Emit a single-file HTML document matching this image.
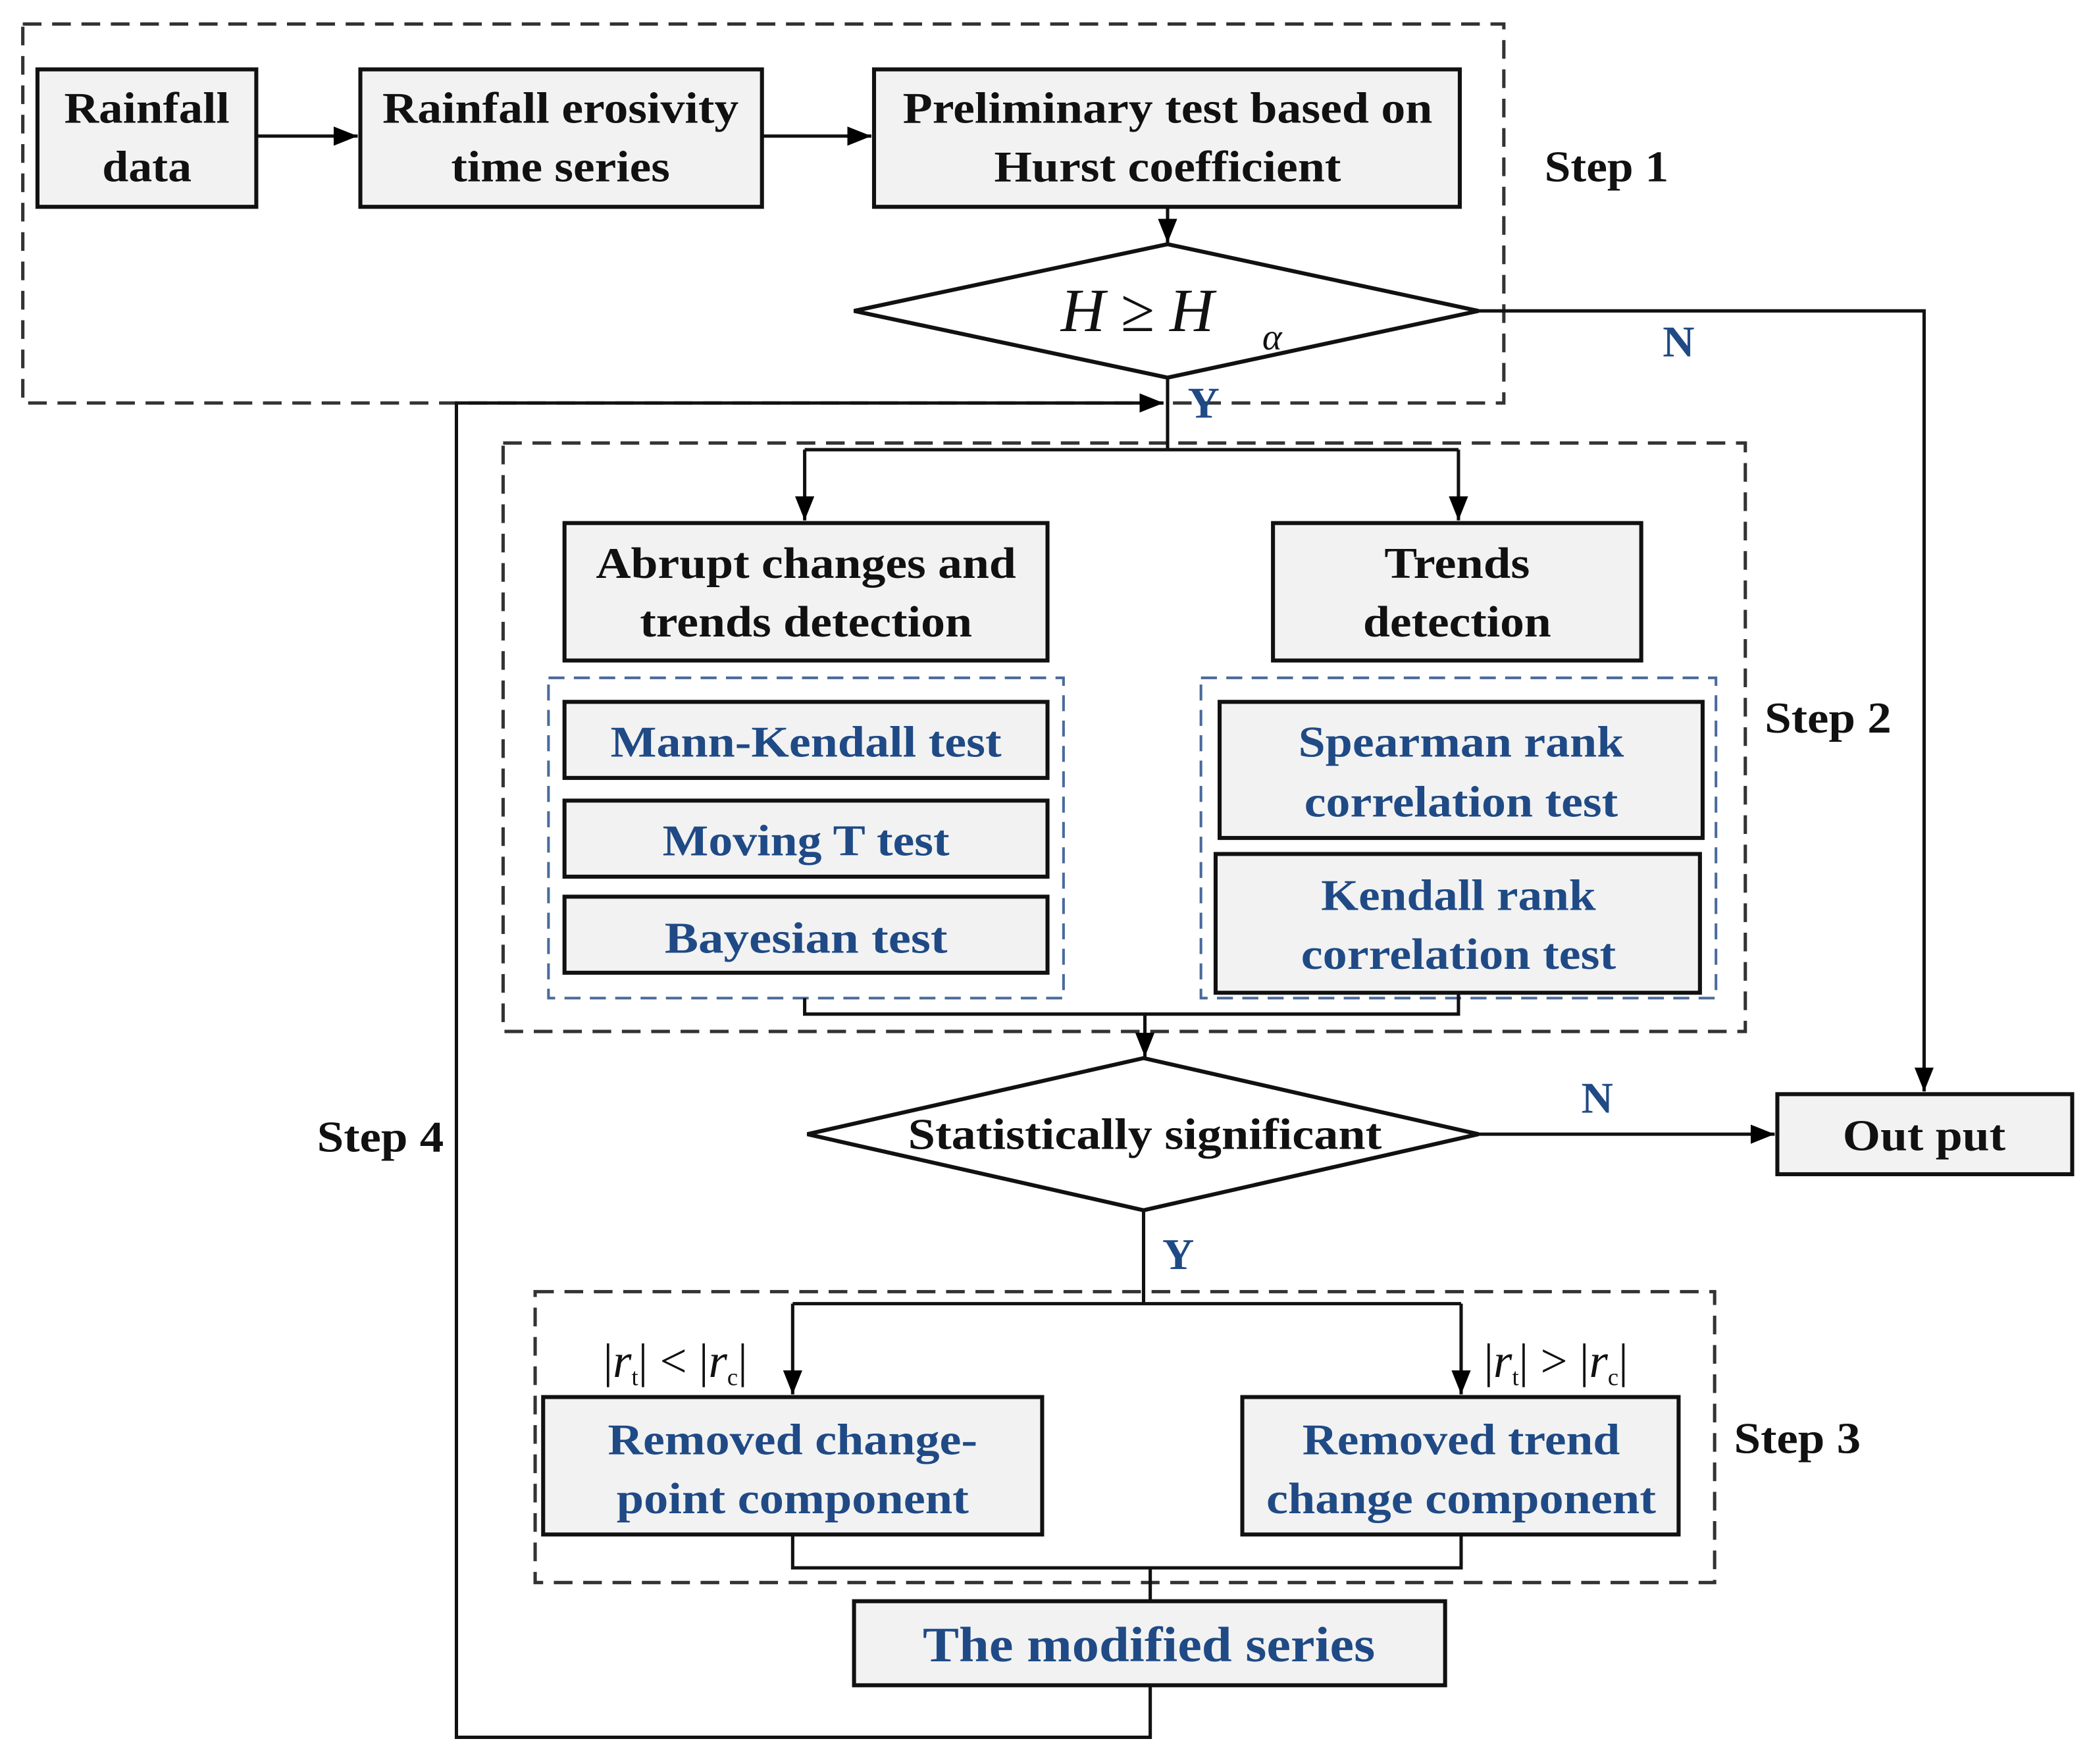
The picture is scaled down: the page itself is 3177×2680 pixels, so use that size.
<!DOCTYPE html>
<html><head><meta charset="utf-8"><style>html,body{margin:0;padding:0;background:#fff}svg{display:block}</style></head>
<body>
<svg width="3177" height="2680" viewBox="0 0 1567 1322" xmlns="http://www.w3.org/2000/svg" font-family="Liberation Serif, serif" font-weight="bold">
<defs>
<marker id="b" viewBox="0 0 10 10" refX="10" refY="5" markerWidth="18" markerHeight="18" orient="auto" markerUnits="userSpaceOnUse"><path d="M0,1L10,5L0,9z" fill="#000"/></marker>
</defs>
<g fill="none" stroke="#333" stroke-width="2.5" stroke-dasharray="14,8">
<rect x="17" y="18" width="1110" height="284"/>
<rect x="377" y="332" width="931" height="441"/>
<rect x="401" y="968" width="884" height="218"/>
</g>
<g fill="none" stroke="#4a6a9a" stroke-width="2" stroke-dasharray="12,7">
<rect x="411" y="508" width="386" height="240"/>
<rect x="900" y="508" width="386" height="240"/>
</g>
<g fill="#f2f2f2" stroke="#111" stroke-width="3">
<rect x="28" y="52" width="164" height="103"/>
<rect x="270" y="52" width="301" height="103"/>
<rect x="655" y="52" width="439" height="103"/>
<rect x="423" y="392" width="362" height="103"/>
<rect x="954" y="392" width="276" height="103"/>
<rect x="423" y="526" width="362" height="57"/>
<rect x="423" y="600" width="362" height="57"/>
<rect x="423" y="672" width="362" height="57"/>
<rect x="914" y="526" width="362" height="102"/>
<rect x="911" y="640" width="363" height="104"/>
<rect x="1332" y="820" width="221" height="60"/>
<rect x="407" y="1047" width="374" height="103"/>
<rect x="931" y="1047" width="327" height="103"/>
<rect x="640" y="1200" width="443" height="63"/>
</g>
<g fill="#fff" stroke="#111" stroke-width="3">
<polygon points="640,233 875,183 1108,233 875,283"/>
<polygon points="605,850 857,793 1108,850 857,907"/>
</g>
<g fill="none" stroke="#111" stroke-width="2.5">
<path d="M192,102H268" marker-end="url(#b)"/>
<path d="M571,102H653" marker-end="url(#b)"/>
<path d="M875,155V182" marker-end="url(#b)"/>
<path d="M1108,233H1442V818" marker-end="url(#b)"/>
<path d="M875,283V337"/>
<path d="M603,337H1093"/>
<path d="M603,337V390" marker-end="url(#b)"/>
<path d="M1093,337V390" marker-end="url(#b)"/>
<path d="M862,1263V1302H342V302H872" marker-end="url(#b)"/>
<path d="M603,748V760H1093V744"/>
<path d="M858,760V792" marker-end="url(#b)"/>
<path d="M1108,850H1330" marker-end="url(#b)"/>
<path d="M857,907V977"/>
<path d="M594,977H1095"/>
<path d="M594,977V1045" marker-end="url(#b)"/>
<path d="M1095,977V1045" marker-end="url(#b)"/>
<path d="M594,1150V1175H1095V1150"/>
<path d="M862,1175V1200"/>
</g>
<g font-size="33" fill="#111" text-anchor="middle" lengthAdjust="spacingAndGlyphs">
<text x="110" y="92" textLength="124" lengthAdjust="spacingAndGlyphs">Rainfall</text>
<text x="110" y="136" textLength="67" lengthAdjust="spacingAndGlyphs">data</text>
<text x="420" y="92" textLength="267" lengthAdjust="spacingAndGlyphs">Rainfall erosivity</text>
<text x="420" y="136" textLength="164" lengthAdjust="spacingAndGlyphs">time series</text>
<text x="875" y="92" textLength="397" lengthAdjust="spacingAndGlyphs">Preliminary test based on</text>
<text x="875" y="136" textLength="260" lengthAdjust="spacingAndGlyphs">Hurst coefficient</text>
<text x="604" y="433" textLength="315" lengthAdjust="spacingAndGlyphs">Abrupt changes and</text>
<text x="604" y="477" textLength="249" lengthAdjust="spacingAndGlyphs">trends detection</text>
<text x="1092" y="433" textLength="109" lengthAdjust="spacingAndGlyphs">Trends</text>
<text x="1092" y="477" textLength="141" lengthAdjust="spacingAndGlyphs">detection</text>
<text x="858" y="861" textLength="355" lengthAdjust="spacingAndGlyphs">Statistically significant</text>
<text x="1442" y="862" textLength="122" lengthAdjust="spacingAndGlyphs">Out put</text>
<text x="1204" y="136" textLength="93" lengthAdjust="spacingAndGlyphs">Step 1</text>
<text x="1370" y="549" textLength="95" lengthAdjust="spacingAndGlyphs">Step 2</text>
<text x="1347" y="1089" textLength="95" lengthAdjust="spacingAndGlyphs">Step 3</text>
<text x="285" y="863" textLength="95" lengthAdjust="spacingAndGlyphs">Step 4</text>
</g>
<g font-size="33" fill="#1f4a85" text-anchor="middle">
<text x="604" y="567" textLength="293" lengthAdjust="spacingAndGlyphs">Mann-Kendall test</text>
<text x="604" y="641" textLength="215" lengthAdjust="spacingAndGlyphs">Moving T test</text>
<text x="604" y="714" textLength="212" lengthAdjust="spacingAndGlyphs">Bayesian  test</text>
<text x="1095" y="567" textLength="244" lengthAdjust="spacingAndGlyphs">Spearman rank</text>
<text x="1095" y="612" textLength="235" lengthAdjust="spacingAndGlyphs">correlation test</text>
<text x="1093" y="682" textLength="206" lengthAdjust="spacingAndGlyphs">Kendall rank</text>
<text x="1093" y="726" textLength="236" lengthAdjust="spacingAndGlyphs">correlation test</text>
<text x="594" y="1090" textLength="277" lengthAdjust="spacingAndGlyphs">Removed change-</text>
<text x="594" y="1134" textLength="264" lengthAdjust="spacingAndGlyphs">point component</text>
<text x="1095" y="1090" textLength="238" lengthAdjust="spacingAndGlyphs">Removed trend</text>
<text x="1095" y="1134" textLength="292" lengthAdjust="spacingAndGlyphs">change component</text>
<text x="861" y="1245" font-size="37" textLength="339" lengthAdjust="spacingAndGlyphs">The modified series</text>
<text x="1258" y="267">N</text>
<text x="902" y="313">Y</text>
<text x="1197" y="834">N</text>
<text x="883" y="951">Y</text>
</g>
<g font-family="Liberation Serif, serif" font-weight="normal" font-style="italic" fill="#111">
<text x="795" y="248" font-size="46">H ≥ H</text><text x="946" y="262" font-size="28">α</text>
<text x="452" y="1032" font-size="36" font-style="normal">|<tspan font-style="italic">r</tspan><tspan font-size="18" dy="6">t</tspan><tspan dy="-6">| &lt; |</tspan><tspan font-style="italic">r</tspan><tspan font-size="18" dy="6">c</tspan><tspan dy="-6">|</tspan></text>
<text x="1112" y="1032" font-size="36" font-style="normal">|<tspan font-style="italic">r</tspan><tspan font-size="18" dy="6">t</tspan><tspan dy="-6">| &gt; |</tspan><tspan font-style="italic">r</tspan><tspan font-size="18" dy="6">c</tspan><tspan dy="-6">|</tspan></text>
</g>
</svg>
</body></html>
